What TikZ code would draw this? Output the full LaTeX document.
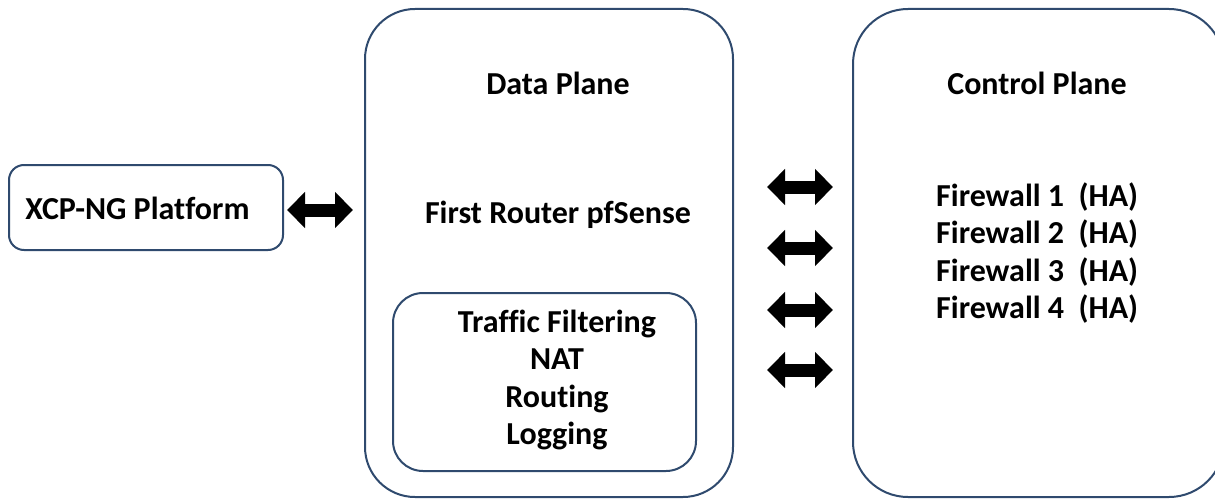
\documentclass[tikz,border=0pt]{standalone}
\usepackage{fontspec}
\setmainfont[Ligatures=NoCommon]{Carlito}
\usetikzlibrary{arrows.meta}
\definecolor{edgeblue}{HTML}{2F4A6E}
\begin{document}
\begin{tikzpicture}[x=1pt,y=-1pt,
  box/.style={draw=edgeblue, line width=2pt, inner sep=0pt, fill=white},
  lbl/.style={font=\fontsize{32}{37.3}\selectfont\bfseries, text=black, inner sep=0pt},
  barrow/.style={line width=13pt, draw=black,
    arrows={Triangle[width=35pt,length=18pt]-Triangle[width=35pt,length=18pt]}}]
\useasboundingbox (0,0) rectangle (1215,500);
\clip (0,0) rectangle (1215,500);
% boxes
\node[box, rounded corners=15pt, minimum width=274pt, minimum height=85pt] (xcp) at (146,207.5) {};
\node[box, rounded corners=50pt, minimum width=368pt, minimum height=488pt] (dp) at (549,253) {};
\node[box, rounded corners=30pt, minimum width=303pt, minimum height=178pt] (inner) at (544.5,382) {};
\node[box, rounded corners=55pt, minimum width=371pt, minimum height=488pt] (cp) at (1038.5,253) {};
% labels
\node[lbl] (xcpl) at (137.5,208) {XCP-NG Platform};
\node[lbl] (dpl) at (558,83) {Data Plane};
\node[lbl] (fr) at (558,215) {First Router pfSense};
\node[lbl, align=center] (fun) at (557,380) {Traffic Filtering\\NAT\\Routing\\Logging};
\node[lbl] (cpl) at (1037,83) {Control Plane};
\node[lbl, align=left, anchor=west] (fw) at (936,253) {Firewall 1~~(HA)\\Firewall 2~~(HA)\\Firewall 3~~(HA)\\Firewall 4~~(HA)};
% arrows
\coordinate (l1) at (287,210); \coordinate (l2) at (353,210);
\draw[barrow] (l1) -- (l2);
\coordinate (r1a) at (767,187); \coordinate (r1b) at (833,187);
\coordinate (r2a) at (767,248); \coordinate (r2b) at (833,248);
\coordinate (r3a) at (767,310); \coordinate (r3b) at (833,310);
\coordinate (r4a) at (767,370); \coordinate (r4b) at (833,370);
\draw[barrow] (r1a) -- (r1b);
\draw[barrow] (r2a) -- (r2b);
\draw[barrow] (r3a) -- (r3b);
\draw[barrow] (r4a) -- (r4b);
\end{tikzpicture}
\end{document}
